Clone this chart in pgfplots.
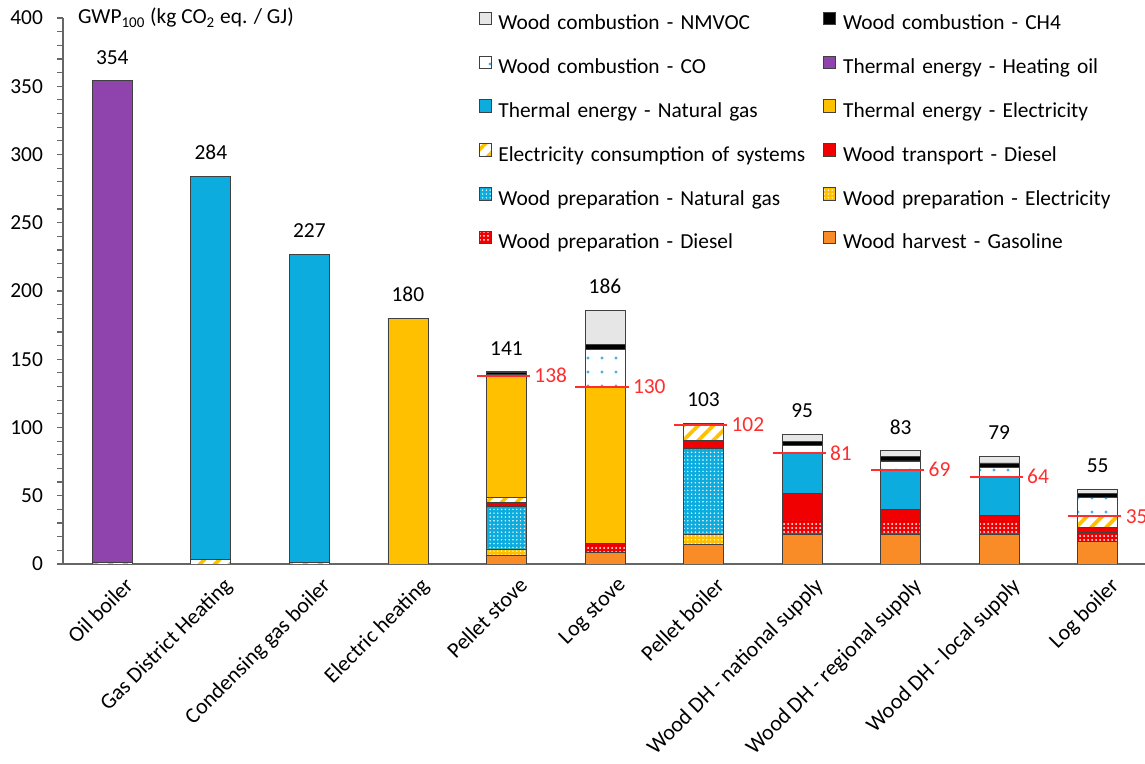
\documentclass[border=0pt]{standalone}
\usepackage{fontspec}
\setmainfont{Carlito}
\usepackage{pgfplots}
\pgfplotsset{compat=1.18}
\usepackage{pgfplotstable}
\usetikzlibrary{patterns.meta}

\definecolor{cGrey}{RGB}{231,230,230}
\definecolor{cOil}{RGB}{143,68,173}
\definecolor{cGas}{RGB}{12,172,222}
\definecolor{cElec}{RGB}{255,192,0}
\definecolor{cRed}{RGB}{240,0,0}
\definecolor{cOrange}{RGB}{250,140,40}
\definecolor{cDot}{RGB}{70,175,230}
\definecolor{cEdge}{RGB}{64,64,64}
\definecolor{cLab}{RGB}{255,45,45}

\newcommand\fs{\fontsize{10.7}{12.5}\selectfont}
\newcommand\fx{\fontsize{11}{13}\selectfont}

% GWP100 contributions, stacked from bottom to top
\pgfplotstableread{
x harv prepdie prepel prepng transp elcons thermel thermng oil co ch4 nmvoc total red
0  0    0    0    0    0    1    0    0     353 0    0    0    354 nan
1  0    0    0    0    0    3.5  0    280.5 0   0    0    0    284 nan
2  0    0    0    0    0    1    0    226   0   0    0    0    227 nan
3  0    0    0    0    0    0    180  0     0   0    0    0    180 nan
4  6.3  0    4.7  31   3    4    89   0     0   1    1.5  0.5  141 138
5  8.5  5    0    0    1.5  0    115  0     0   27   4    25   186 130
6  14   0    8    62.5 6    11.5 0    0     0   0.5  0.3  0.2  103 102
7  22   9.5  0    0    20.5 0    0    29    0   6    3    5    95  81
8  22   9    0    0    9    0    0    29    0   6.5  3    4.5  83  69
9  22   9    0    0    4.5  0    0    28.5  0   6.5  3.5  5    79  64
10 16.5 6.5  0    0    3.5  8.5  0    0     0   14   2.5  3.5  55  35
}\gwp

% red marker lines (without combustion emissions)
\pgfplotstableread{
x y
3.70 138
4.24 138
4.00 nan
4.70 130
5.24 130
5.00 nan
5.70 102
6.24 102
6.00 nan
6.70 81
7.24 81
7.00 nan
7.70 69
8.24 69
8.00 nan
8.70 64
9.24 64
9.00 nan
9.70 35
10.24 35
}\redlines

\begin{document}
\begin{tikzpicture}
\useasboundingbox (-31.5pt,-100pt) rectangle (541pt,282pt);
\begin{axis}[
  at={(0,0)}, anchor=south west,
  scale only axis, width=542pt, height=273pt,
  xmin=-0.5, xmax=10.5, ymin=0, ymax=400,
  ybar stacked, bar width=20pt,
  axis x line*=bottom, axis y line*=left,
  axis line style={cEdge!80, line width=0.8pt},
  xtick={0,...,10},
  xticklabels={Oil boiler, Gas District Heating, Condensing gas boiler, Electric heating, Pellet stove, Log stove, Pellet boiler, Wood DH - national supply, Wood DH - regional supply, Wood DH - local supply, Log boiler},
  xtick style={draw=none},
  xticklabel style={rotate=45, anchor=north east, inner sep=0pt, xshift=2pt, yshift=-6pt, font=\fx},
  ytick={0,50,...,400},
  minor y tick num=4,
  ytick style={cEdge!80, line width=0.6pt},
  tick align=outside,
  major tick length=3pt, minor tick length=3pt,
  yticklabel style={xshift=-3.5pt, font=\fs},
  /pgf/number format/assume math mode=true,
  ylabel={GWP\textsubscript{100} (kg CO\textsubscript{2} eq. / GJ)},
  ylabel style={rotate=-90, anchor=west, at={(axis description cs:0,1)}, xshift=4pt, font=\fs},
  legend columns=2, reverse legend,
  legend image code/.code={\draw[#1] (0pt,0pt) rectangle (6pt,6.3pt);},
  legend style={at={(axis description cs:0.383,1.012)}, anchor=north west,
    draw=none, fill=none, font=\fs, inner sep=0pt, column sep=0pt, row sep=9.4pt,
    nodes={text width=159pt, inner xsep=3.5pt, inner ysep=1.5pt, text height=7pt, text depth=2pt}},
]
\addplot[draw=cEdge, fill=cOrange] table[x=x, y=harv]{\gwp};
\addlegendentry{Wood harvest - Gasoline}
\addplot[draw=cEdge, preaction={fill=cRed}, pattern={Dots[distance=2pt, radius=0.5pt]}, pattern color=white] table[x=x, y=prepdie]{\gwp};
\addlegendentry{Wood preparation - Diesel}
\addplot[draw=cEdge, preaction={fill=cElec}, pattern={Dots[distance=1.9pt, radius=0.4pt]}, pattern color=white] table[x=x, y=prepel]{\gwp};
\addlegendentry{Wood preparation - Electricity}
\addplot[draw=cEdge, preaction={fill=cGas}, pattern={Dots[distance=1.9pt, radius=0.4pt]}, pattern color=white] table[x=x, y=prepng]{\gwp};
\addlegendentry{Wood preparation - Natural gas}
\addplot[draw=cEdge, fill=cRed] table[x=x, y=transp]{\gwp};
\addlegendentry{Wood transport - Diesel}
\addplot[draw=cEdge, preaction={fill=white}, pattern={Lines[angle=45, distance=5.3pt, line width=1.8pt]}, pattern color=cElec] table[x=x, y=elcons]{\gwp};
\addlegendentry{Electricity consumption of systems}
\addplot[draw=cEdge, fill=cElec] table[x=x, y=thermel]{\gwp};
\addlegendentry{Thermal energy - Electricity}
\addplot[draw=cEdge, fill=cGas] table[x=x, y=thermng]{\gwp};
\addlegendentry{Thermal energy - Natural gas}
\addplot[draw=cEdge, fill=cOil] table[x=x, y=oil]{\gwp};
\addlegendentry{Thermal energy - Heating oil}
\addplot[draw=cEdge, preaction={fill=white}, pattern={Dots[distance=7pt, radius=0.8pt]}, pattern color=cDot] table[x=x, y=co]{\gwp};
\addlegendentry{Wood combustion - CO}
\addplot[draw=cEdge, fill=black] table[x=x, y=ch4]{\gwp};
\addlegendentry{Wood combustion - CH4}
\addplot[draw=cEdge, fill=cGrey] table[x=x, y=nmvoc]{\gwp};
\addlegendentry{Wood combustion - NMVOC}
\end{axis}

\begin{axis}[
  at={(0,0)}, anchor=south west,
  scale only axis, width=542pt, height=273pt,
  xmin=-0.5, xmax=10.5, ymin=0, ymax=400,
  hide axis, clip=false,
  /pgf/number format/assume math mode=true,
]
\addplot[draw=none, nodes near coords, point meta=y,
  nodes near coords style={font=\fs, anchor=south, yshift=4.6pt}] table[x=x, y=total]{\gwp};
\addplot[cLab, line width=1pt, unbounded coords=jump] table[x=x, y=y]{\redlines};
\addplot[draw=none, nodes near coords, point meta=y,
  nodes near coords style={font=\fs, text=cLab, anchor=west, inner sep=1pt}] table[x expr=\thisrow{x}+0.26, y=red]{\gwp};
\end{axis}
\end{tikzpicture}
\end{document}
